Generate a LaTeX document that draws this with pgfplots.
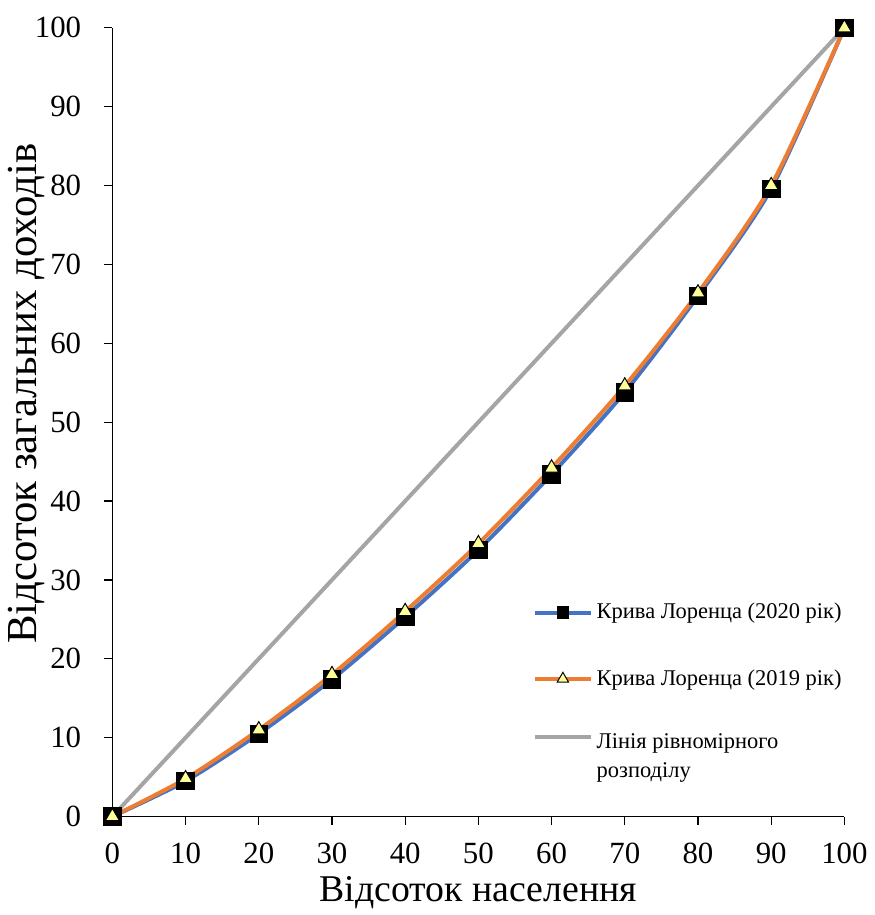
\documentclass[border=0pt]{standalone}
\usepackage{fontspec}
\setmainfont{Liberation Serif}
\usepackage{pgfplots}
\pgfplotsset{compat=1.18}

\definecolor{lzblue}{HTML}{4472C4}
\definecolor{lzorange}{HTML}{ED7D31}
\definecolor{lzgray}{HTML}{A5A5A5}
\definecolor{lzyellow}{HTML}{FFFF99}

\begin{document}
\begin{tikzpicture}
\begin{axis}[
    scale only axis,
    width=368pt, height=396.5pt,
    xmin=0, xmax=100, ymin=0, ymax=100,
    axis lines=left,
    axis line style={-, black, line width=0.6pt},
    xtick={0,10,...,100}, ytick={0,10,...,100},
    tick style={black, line width=0.6pt},
    tick align=outside,
    major tick length=4.2pt,
    ticklabel style={font=\fontsize{15.5}{15.5}\selectfont},
    /pgf/number format/assume math mode=true,
    xticklabel style={yshift=-5.5pt},
    yticklabel style={xshift=-8pt},
    xlabel={Відсоток населення},
    ylabel={Відсоток загальних доходів},
    xlabel style={font=\fontsize{19}{19}\selectfont,
        at={(axis description cs:0.5,0)}, anchor=base, yshift=-42.5pt},
    ylabel style={font=\fontsize{21.5}{21.5}\selectfont,
        at={(axis description cs:-0.1168,0.536)}, anchor=center},
    clip=false,
    legend style={draw=none, fill=none, at={(0.566,0.281)}, anchor=north west,
        font=\fontsize{11.3}{14.5}\selectfont, row sep=20pt,
        nodes={align=left}},
    legend cell align=left,
    legend image code/.code={
        \draw[#1, mark repeat=2, mark phase=2]
            plot coordinates {(0pt,0pt) (14pt,0pt) (28pt,0pt)};
    },
]
% invisible frame: the white margins of the original picture
\path (rel axis cs:0,1) ++(-56.5pt,14pt);
\path (rel axis cs:1,0) ++(12pt,-47pt);

\addplot[lzblue, line width=2pt, smooth, tension=0.45,
    mark=square*, mark size=4.4pt,
    mark options={solid, fill=black, draw=black, line width=0.4pt},
    forget plot]
    coordinates {
    (0,0) (10,4.5) (20,10.5) (30,17.4) (40,25.3) (50,33.8)
    (60,43.4) (70,53.8) (80,66.0) (90,79.6) (100,100)
};
\addplot[lzorange, line width=2pt, smooth, tension=0.45,
    mark=triangle*, mark size=4.1pt,
    mark options={solid, fill=lzyellow, draw=black, line width=0.5pt},
    forget plot]
    coordinates {
    (0,0) (10,4.8) (20,11.0) (30,18.0) (40,26.0) (50,34.6)
    (60,44.2) (70,54.6) (80,66.4) (90,80.0) (100,100)
};
\addplot[lzgray, line width=2pt, forget plot] coordinates {(0,0) (100,100)};

\addlegendimage{lzblue, line width=2pt, mark=square*, mark size=3pt,
    mark options={solid, fill=black, draw=black, line width=0.4pt}}
\addlegendentry{Крива Лоренца (2020 рік)}
\addlegendimage{lzorange, line width=2pt, mark=triangle*, mark size=3.3pt,
    mark options={solid, fill=lzyellow, draw=black, line width=0.5pt}}
\addlegendentry{Крива Лоренца (2019 рік)}
\addlegendimage{lzgray, line width=2pt}
\addlegendentry{\raisebox{-0.57em}[0pt][0pt]{\begin{tabular}[t]{@{}l@{}}Лінія рівномірного\\розподілу\end{tabular}}}
\end{axis}
\end{tikzpicture}
\end{document}
